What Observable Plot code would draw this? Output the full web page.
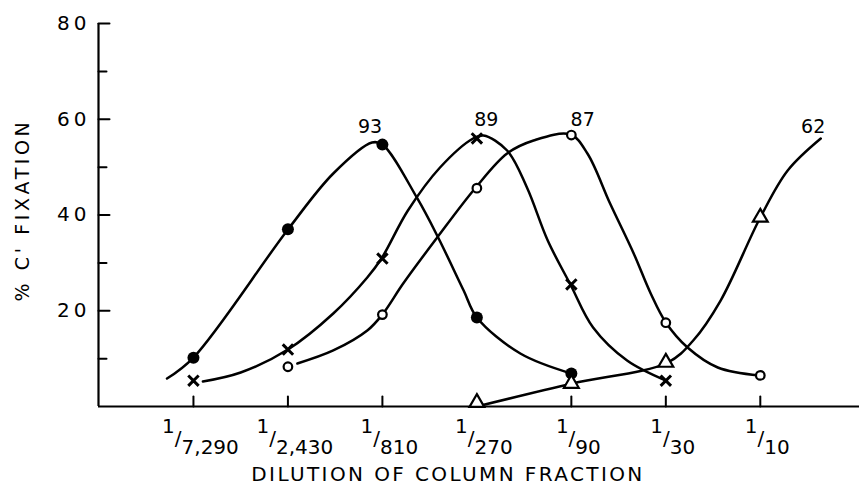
<!DOCTYPE html>
<html><head><meta charset="utf-8">
<script src="https://cdn.jsdelivr.net/npm/d3@7"></script>
<script src="https://cdn.jsdelivr.net/npm/@observablehq/plot@0.6"></script>
<style>
body{margin:0;background:#fff}
#chart svg{background:#fff}
g[aria-label="y-axis tick label"] text{letter-spacing:4px}
</style></head><body><div id="chart"></div>
<script>
// ---- categories / tick labels ----
const dilutions = ["7,290","2,430","810","270","90","30","10"];
const xTickIdx = [0,1,2,3,4,5,6];
const yMajorTicks = [20,40,60,80];
const yMinorTicks = [10,30,50,70];
const xTitle = "DILUTION OF COLUMN FRACTION";
const yTitle = "% C' FIXATION";

// ---- series A: filled circles (peak label 93) ----
const aX = [0,1,2,3,4];
const aY = [10.2,37.0,54.7,18.6,6.9];
const aCurveX = [-0.28,0,1.0,1.48,1.89,2.0,2.37,2.59,2.86,3.0,3.46,4.0];
const aCurveY = [5.85,10.23,36.97,48.67,55.14,54.73,43.45,35.30,24.23,18.59,11.07,6.89];

// ---- series B: crosses (peak label 89) ----
const bX = [0,1,2,3,4,5];
const bY = [5.4,11.9,30.9,56.0,25.5,5.4];
const bCurveX = [0.10,0.50,1.0,1.48,1.84,1.99,2.27,2.61,2.96,3.07,3.32,3.53,3.75,3.99,4.23,4.59,5.0];
const bCurveY = [5.22,7.10,11.91,19.43,26.95,30.91,40.94,49.92,55.98,56.61,53.47,45.74,34.67,25.48,16.50,9.61,5.43];

// ---- series C: open circles (peak label 87) ----
const cX = [1,2,3,4,5,6];
const cY = [8.3,19.2,45.6,56.7,17.5,6.5];
const cCurveX = [1.10,1.48,1.84,2.0,2.22,2.58,2.98,3.32,3.60,3.99,4.17,4.41,4.66,4.84,5.0,5.23,5.55,5.99];
const cCurveY = [8.98,11.70,15.87,19.22,25.69,35.30,45.54,52.85,55.56,56.81,52.85,42.40,31.96,23.60,17.55,12.32,8.15,6.48];

// ---- series D: open triangles (peak label 62) ----
const dX = [3,4,5,6];
const dY = [0.8,4.8,9.2,39.5];
const dCurveX = [3.0,4.01,5.02,5.29,5.58,6.0,6.29,6.64];
const dCurveY = [0,4.80,9.19,13.79,22.14,39.48,49.30,55.98];

// ---- peak labels ----
const peakText = ["93","89","87","62"];
const peakX = [1.87,3.10,4.12,6.56];
const peakY = [58.5,59.9,59.9,58.3];

const xDomain = [-1.005, 7.05];
const yDomain = [0, 80];

const pts = (X, Y) => X.map((x, i) => ({x, y: Y[i]}));
const A = pts(aX, aY), Ac = pts(aCurveX, aCurveY);
const B = pts(bX, bY), Bc = pts(bCurveX, bCurveY);
const C = pts(cX, cY), Cc = pts(cCurveX, cCurveY);
const D = pts(dX, dY), Dc = pts(dCurveX, dCurveY);
const labels = peakText.map((t, i) => ({t, x: peakX[i], y: peakY[i]}));

const tickShape = {draw(ctx, l) { ctx.moveTo(0, 0); ctx.lineTo(0, -l); }};
const font = "DejaVu Sans";

const lineOpts = {x: "x", y: "y", curve: "catmull-rom", stroke: "black", strokeWidth: 2.5};

const chart = Plot.plot({
  width: 859,
  height: 487,
  marginLeft: 98,
  marginRight: 0,
  marginTop: 23,
  marginBottom: 81,
  style: {fontFamily: font, color: "black", background: "white"},
  x: {domain: xDomain, axis: null},
  y: {domain: yDomain, axis: null},
  marks: [
    Plot.ruleY([0], {stroke: "black", strokeWidth: 2.2}),
    Plot.ruleX([xDomain[0]], {y1: yDomain[0], y2: yDomain[1], stroke: "black", strokeWidth: 2.2}),
    Plot.vector(yMajorTicks, {x: xDomain[0], y: d => d, length: 11, rotate: 90, anchor: "start", shape: tickShape, stroke: "black", strokeWidth: 2}),
    Plot.vector(yMinorTicks, {x: xDomain[0], y: d => d, length: 8, rotate: 90, anchor: "start", shape: tickShape, stroke: "black", strokeWidth: 2}),
    Plot.vector(xTickIdx, {x: d => d, y: 0, length: 10, anchor: "start", shape: tickShape, stroke: "black", strokeWidth: 2}),
    Plot.axisY(yMajorTicks, {anchor: "left", label: null, tickSize: 0, tickPadding: 8, fontSize: 20, tickFormat: d => String(d)}),
    Plot.axisX(xTickIdx, {anchor: "bottom", label: null, tickSize: 0, tickPadding: 33, fontSize: 20, tickFormat: i => "1/" + dilutions[i]}),
    Plot.text([xTitle], {frameAnchor: "bottom", lineAnchor: "middle", textAnchor: "middle", dx: -31, dy: 68, fontSize: 20}),
    Plot.text([yTitle], {frameAnchor: "left", lineAnchor: "middle", textAnchor: "middle", rotate: -90, dx: -76, dy: -5, fontSize: 19}),
    Plot.line(Ac, lineOpts),
    Plot.line(Bc, lineOpts),
    Plot.line(Cc, lineOpts),
    Plot.line(Dc, lineOpts),
    Plot.dot(A, {x: "x", y: "y", r: 6, fill: "black"}),
    Plot.dot(B, {x: "x", y: "y", symbol: "times", r: 4.8, stroke: "black", strokeWidth: 3}),
    Plot.dot(C, {x: "x", y: "y", r: 4.3, stroke: "black", fill: "white", strokeWidth: 2.2}),
    Plot.dot(D, {x: "x", y: "y", symbol: "triangle", r: 5.5, stroke: "black", fill: "white", strokeWidth: 2.2}),
    Plot.text(labels, {x: "x", y: "y", text: "t", fontSize: 19})
  ]
});

// raise the "1" of each fraction tick label
d3.select(chart).selectAll('g[aria-label="x-axis tick label"] text').each(function() {
  const parts = this.textContent.split("/");
  const t = d3.select(this);
  t.text(null);
  t.append("tspan").attr("dx", "0.35em").attr("dy", "-1.05em").text(parts[0]);
  t.append("tspan").attr("dy", "0.6em").text("/");
  t.append("tspan").attr("dy", "0.45em").text(parts[1]);
});
// letter spacing for the titles
d3.select(chart).selectAll("text").filter(function() { return this.textContent === yTitle; }).style("letter-spacing", "3.6px");
d3.select(chart).selectAll("text").filter(function() { return this.textContent === xTitle; }).style("letter-spacing", "2.4px");

document.getElementById("chart").appendChild(chart);
</script>
</body></html>
